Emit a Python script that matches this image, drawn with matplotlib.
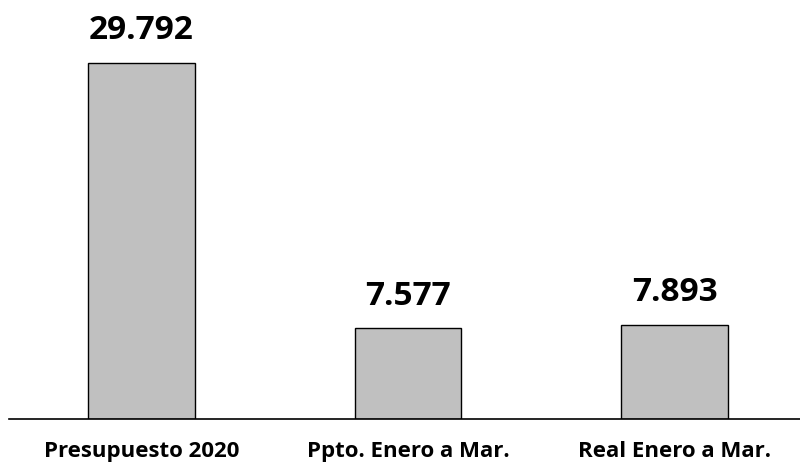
import matplotlib.pyplot as plt

categorias = ['Presupuesto 2020', 'Ppto. Enero a Mar.', 'Real Enero a Mar.']
valores = [29792, 7577, 7893]
etiquetas = ['29.792', '7.577', '7.893']

plt.rcParams['font.family'] = ['Open Sans', 'DejaVu Sans']

fig = plt.figure(figsize=(8, 4.65), dpi=100)
ax = fig.add_axes([9/800, 46/465, 791/800, 419/465])

barras = ax.bar(range(len(categorias)), valores, width=0.4,
                color='#c0c0c0', edgecolor='black', linewidth=1)
ax.bar_label(barras, labels=etiquetas, padding=11,
             fontsize=24, fontweight='bold')

ax.set_xlim(-0.497, 2.471)
ax.set_ylim(0, 35034)
ax.set_xticks(range(len(categorias)))
ax.set_xticklabels(categorias, fontsize=16, fontweight='bold')
ax.tick_params(axis='x', length=0, pad=16)
ax.set_yticks([])
for lado in ['top', 'right', 'left']:
    ax.spines[lado].set_visible(False)
ax.spines['bottom'].set_linewidth(1.2)

fig.savefig('out.png', dpi=100)
